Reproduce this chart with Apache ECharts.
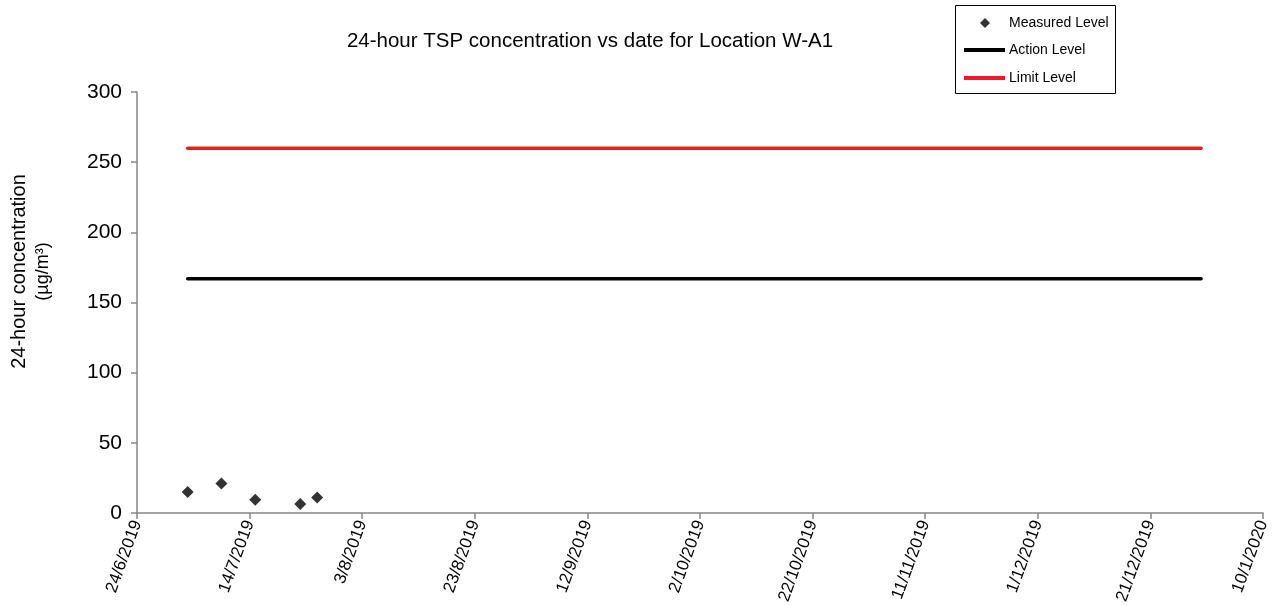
<!DOCTYPE html>
<html><head><meta charset="utf-8">
<script src="https://cdn.jsdelivr.net/npm/echarts@6/dist/echarts.min.js"></script>
<style>html,body{margin:0;padding:0;background:#fff}#c{width:1277px;height:606px}</style>
</head><body><div id="c"></div>
<script>
// Data
const measuredDates = ['2019-07-03','2019-07-09','2019-07-15','2019-07-23','2019-07-26'];
const measuredValues = [15, 21, 9.5, 6.5, 11];
const levelDates = ['2019-07-03','2019-12-30'];
const actionLevel = [167, 167];
const limitLevel = [260, 260];
const axisStart = '2019-06-24';
const axisEnd = '2020-01-10';
const tickStepDays = 20;

const DAY = 86400000;
const t0 = Date.parse(axisStart + 'T00:00:00Z');
const toDay = s => Math.round((Date.parse(s + 'T00:00:00Z') - t0) / DAY);
const fmt = d => { const dt = new Date(t0 + d * DAY); return dt.getUTCDate() + '/' + (dt.getUTCMonth() + 1) + '/' + dt.getUTCFullYear(); };
const FONT = '"Liberation Sans", Arial, sans-serif';
const legText = {fontFamily: FONT, fontSize: 14, color: '#000'};

const chart = echarts.init(document.getElementById('c'), null, {renderer: 'canvas'});
chart.setOption({
  animation: false,
  backgroundColor: '#fff',
  textStyle: {fontFamily: FONT},
  title: {
    text: '24-hour TSP concentration vs date for Location W-A1',
    left: 585, top: 26, textAlign: 'center',
    textStyle: {fontFamily: FONT, fontSize: 20.5, fontWeight: 'normal', color: '#000'}
  },
  graphic: [{
    type: 'rect', left: 955, top: 5, silent: true, z: -1,
    shape: {width: 160, height: 88},
    style: {fill: '#fff', stroke: '#000', lineWidth: 1}
  }],
  legend: [
    {
      left: 980, top: 16, padding: 0,
      itemWidth: 10, itemHeight: 10,
      textStyle: Object.assign({padding: [0, 0, 0, 14]}, legText),
      data: [{name: 'Measured Level', icon: 'diamond'}]
    },
    {
      orient: 'vertical', left: 964, top: 43, padding: 0,
      itemWidth: 41, itemHeight: 4, itemGap: 14,
      textStyle: Object.assign({padding: [0, 0, 0, -1]}, legText),
      data: [{name: 'Action Level', icon: 'rect'}, {name: 'Limit Level', icon: 'rect'}]
    }
  ],
  grid: {left: 137, right: 14, top: 92, bottom: 93, outerBoundsMode: 'none', containLabel: false},
  xAxis: {
    type: 'value', min: 0, max: toDay(axisEnd), interval: tickStepDays,
    axisLine: {lineStyle: {color: '#868686', width: 1.5}},
    axisTick: {show: true, length: 6, lineStyle: {color: '#868686', width: 1.5}},
    splitLine: {show: false},
    axisLabel: {rotate: 70, fontSize: 17, color: '#000', fontFamily: FONT, margin: 8, formatter: v => fmt(v)}
  },
  yAxis: {
    type: 'value', min: 0, max: 300, interval: 50,
    name: '{a|24-hour concentration}\n{b|(µg/m³)}',
    nameLocation: 'middle', nameRotate: 90, nameGap: 82,
    nameTextStyle: {
      fontFamily: FONT, color: '#000', padding: [0, 0, 0, 62],
      rich: {a: {fontFamily: FONT, fontSize: 20, lineHeight: 24, color: '#000'},
             b: {fontFamily: FONT, fontSize: 18, lineHeight: 24, color: '#000'}}
    },
    axisLine: {show: true, lineStyle: {color: '#868686', width: 1.5}},
    axisTick: {show: true, length: 6, lineStyle: {color: '#868686', width: 1.5}},
    splitLine: {show: false},
    axisLabel: {fontSize: 21, color: '#000', fontFamily: FONT, margin: 15}
  },
  series: [
    {
      name: 'Measured Level', type: 'scatter', symbol: 'diamond', symbolSize: 12,
      itemStyle: {color: '#000'},
      data: measuredDates.map((d, i) => [toDay(d), measuredValues[i]])
    },
    {
      name: 'Action Level', type: 'line', symbol: 'none',
      lineStyle: {color: '#000', width: 3.5, cap: 'round'}, itemStyle: {color: '#000'},
      data: levelDates.map((d, i) => [toDay(d), actionLevel[i]])
    },
    {
      name: 'Limit Level', type: 'line', symbol: 'none',
      lineStyle: {color: '#ed1c24', width: 3.5, cap: 'round'}, itemStyle: {color: '#ed1c24'},
      data: levelDates.map((d, i) => [toDay(d), limitLevel[i]])
    }
  ]
});
</script></body></html>
